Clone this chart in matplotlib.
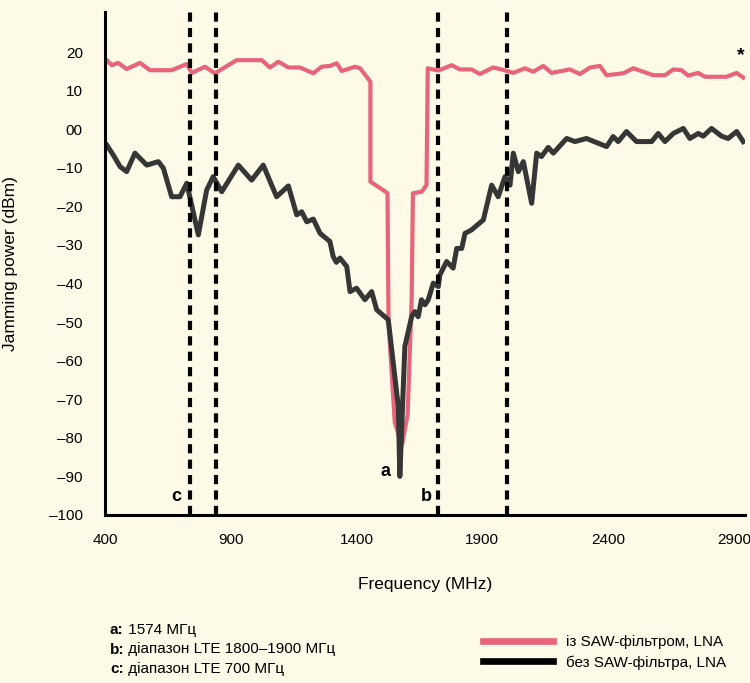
import matplotlib
matplotlib.use('Agg')
import matplotlib.pyplot as plt
from matplotlib.lines import Line2D

plt.rcParams['font.family'] = ['Liberation Sans', 'DejaVu Sans']

# frequency (MHz) and jamming power (dBm), with SAW filter
saw_freq = [407, 427, 452, 486, 539, 579, 665, 725, 745, 797, 837, 923, 1023, 1056, 1089, 1129,
            1175, 1228, 1261, 1294, 1321, 1341, 1394, 1414, 1455, 1455, 1506, 1523, 1527, 1552,
            1580, 1603, 1619, 1624, 1659, 1678, 1683, 1725, 1778, 1811, 1857, 1890, 1943, 1976,
            2023, 2069, 2102, 2142, 2175, 2248, 2288, 2328, 2367, 2394, 2460, 2500, 2540, 2579,
            2626, 2659, 2692, 2718, 2758, 2785, 2871, 2911, 2937]
saw_power = [17.9, 16.6, 17.2, 15.6, 17.2, 15.3, 15.3, 16.9, 14.6, 16.2, 14.5, 17.9, 17.9, 16.0,
             17.5, 16.0, 16.0, 14.5, 16.2, 16.4, 17.1, 15.1, 16.2, 15.8, 12.3, -13.6, -15.8, -16.6,
             -50, -76, -82, -74, -44, -16.6, -16.2, -14.5, 15.8, 15.2, 16.6, 15.5, 15.5, 14.3,
             16.0, 15.5, 14.6, 15.8, 14.9, 16.4, 14.6, 15.5, 14.3, 16.0, 16.4, 14.0, 14.5, 15.8,
             14.9, 14.0, 14.0, 15.5, 15.3, 13.9, 14.6, 13.6, 13.6, 14.6, 13.4]

# without SAW filter
raw_freq = [407, 433, 460, 486, 519, 566, 612, 632, 665, 698, 725, 771, 804, 830, 864, 930, 983,
            1029, 1082, 1129, 1162, 1182, 1202, 1228, 1255, 1294, 1307, 1320, 1334, 1361, 1374,
            1400, 1433, 1460, 1480, 1526, 1566, 1572, 1592, 1619, 1632, 1645, 1658, 1672, 1685,
            1705, 1725, 1731, 1758, 1784, 1798, 1818, 1831, 1857, 1904, 1937, 1963, 1990, 2010,
            2023, 2043, 2063, 2096, 2116, 2135, 2162, 2182, 2235, 2268, 2314, 2394, 2420, 2440,
            2473, 2513, 2573, 2599, 2626, 2659, 2699, 2725, 2758, 2778, 2811, 2851, 2877, 2911,
            2937]
raw_power = [-4.1, -6.7, -9.7, -11.0, -6.2, -9.3, -8.4, -10.1, -17.5, -17.5, -14.0, -27.4, -15.8,
             -12.3, -16.2, -9.3, -13.2, -9.3, -17.5, -14.7, -22.2, -21.4, -24.0, -23.3, -27.0,
             -29.1, -33.0, -34.5, -33.4, -35.6, -42.1, -41.2, -44.2, -42.1, -46.8, -49.4, -72.0,
             -90.0, -56.3, -48.6, -47.3, -48.6, -44.2, -45.5, -44.2, -39.9, -40.8, -37.8, -34.3,
             -36.0, -30.9, -30.9, -27.0, -26.1, -23.5, -14.5, -17.5, -12.3, -14.5, -6.2, -11.0,
             -8.4, -19.2, -6.2, -7.1, -4.7, -6.2, -2.4, -3.2, -2.4, -4.5, -1.9, -3.2, -0.6, -3.2,
             -3.2, -1.1, -3.2, -1.1, 0.2, -2.4, -1.1, -1.8, 0.2, -1.8, -2.4, -0.6, -3.2]

band_lines = [738, 841, 1723, 1998]
x_ticks = [400, 900, 1400, 1900, 2400, 2900]
y_ticks = [20, 10, 0, -10, -20, -30, -40, -50, -60, -70, -80, -90, -100]
y_labels = ['20', '10', '00'] + ['\u2013%d' % -v for v in y_ticks[3:]]

marks = [('c', 682, -95.3), ('a', 1517, -88.8), ('b', 1676, -95.3)]
notes = [('a:', ' 1574 МГц'),
         ('b:', ' діапазон LTE 1800\u20131900 МГц'),
         ('c:', ' діапазон LTE 700 МГц')]
series_names = ['із SAW-фільтром, LNA', 'без SAW-фільтра, LNA']

bg = '#fdfbe7'
pink = '#e8647a'
dark = '#363636'

fig = plt.figure(figsize=(7.5, 6.83), dpi=100, facecolor=bg)
ax = fig.add_axes([0.14, 0.246, 0.8533, 0.7365])
ax.set_facecolor(bg)

ax.plot(saw_freq, saw_power, color=pink, lw=3.0, solid_joinstyle='round', zorder=2)
ax.plot(raw_freq, raw_power, color=dark, lw=3.6, solid_joinstyle='round', zorder=3)
for f in band_lines:
    ax.axvline(f, color='black', lw=3.0, dashes=(2.2, 1.5), zorder=4)

ax.set_xlim(400, 2944)
ax.set_ylim(-100, 30.4)
for s in ['top', 'right']:
    ax.spines[s].set_visible(False)
for s in ['left', 'bottom']:
    ax.spines[s].set_linewidth(2.2)
    ax.spines[s].set_zorder(5)

ax.set_xticks(x_ticks)
ax.set_xticklabels([str(v) for v in x_ticks])
ax.set_yticks(y_ticks)
ax.set_yticklabels(y_labels)
ax.tick_params(axis='both', length=0, labelsize=11)
ax.tick_params(axis='y', pad=16)
ax.tick_params(axis='x', pad=13)

ax.set_xlabel('Frequency (MHz)', fontsize=12.5)
ax.set_ylabel('Jamming power (dBm)', fontsize=12.5)
ax.xaxis.set_label_coords(0.5, -0.123)
ax.yaxis.set_label_coords(-0.136, 0.5)

for lab, f, v in marks:
    ax.text(f, v, lab, fontsize=13, fontweight='bold', ha='center', va='center')
ax.text(2929, 19.2, '*', fontsize=14, fontweight='bold', ha='center', va='center')

for i, (key, txt) in enumerate(notes):
    y = 1 - (630 + i * 19.5) / 683
    t = fig.text(110 / 750, y, key, fontsize=11, fontweight='bold', va='center')
    ax.annotate(txt, xy=(1, 0.5), xycoords=t, fontsize=11, va='center', ha='left',
                annotation_clip=False)

handles = [Line2D([], [], color=pink, lw=4.8), Line2D([], [], color='black', lw=4.8)]
fig.legend(handles, series_names, loc='upper left', bbox_to_anchor=(483 / 750, 1 - 635 / 683),
           frameon=False, fontsize=11, handlelength=4.6, handletextpad=0.8,
           labelspacing=0.42, borderpad=0, borderaxespad=0)

fig.savefig('out.png', dpi=100, facecolor=bg)
